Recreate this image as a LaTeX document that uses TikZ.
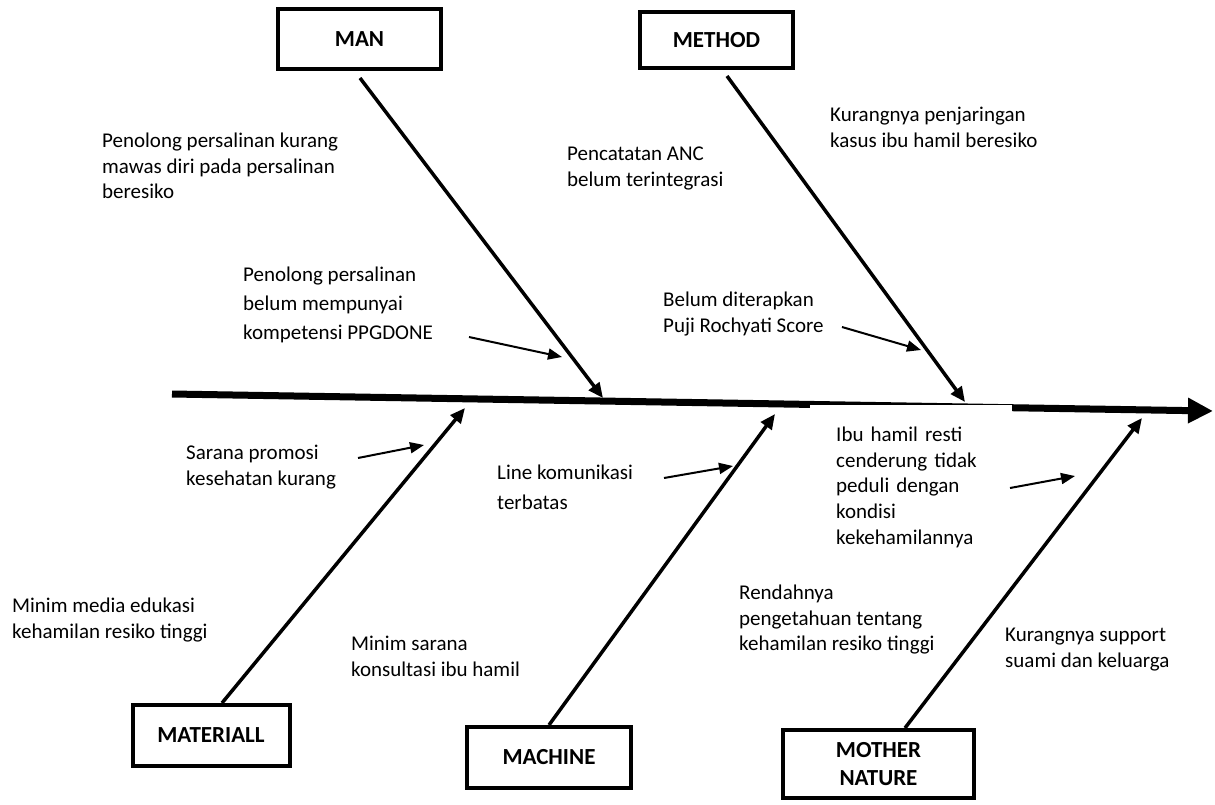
\documentclass[tikz,border=0pt]{standalone}
\usepackage{fontspec}
\setmainfont{Carlito}
\usetikzlibrary{arrows.meta}
\begin{document}
\begin{tikzpicture}[x=1pt,y=-1pt,
  txt/.style={anchor=north west, align=left, inner sep=0pt, font=\fontsize{21}{25.6}\selectfont},
  cat/.style={draw, line width=4pt, align=center, inner sep=0pt, font=\bfseries\fontsize{23}{28}\selectfont},
  spine/.style={line width=7pt, -{Triangle[length=25pt,width=24pt]}},
  bone/.style={line width=3.5pt, -{Triangle[length=15pt,width=13pt]}},
  sub/.style={line width=2pt, -{Triangle[length=14pt,width=11pt]}}]
\useasboundingbox (0,0) rectangle (1215,804);

% category boxes
\node[cat, minimum width=163pt, minimum height=60pt] (man) at (359.5,39) {MAN};
\node[cat, minimum width=153pt, minimum height=56pt] (method) at (716.5,40) {METHOD};
\node[cat, minimum width=157pt, minimum height=61pt] (mat) at (211,735.5) {MATERIALL};
\node[cat, minimum width=164pt, minimum height=61pt] (mach) at (549,757.5) {MACHINE};
\node[cat, minimum width=191pt, minimum height=68pt] (mother) at (878.5,764) {MOTHER\\NATURE};

% spine
\coordinate (tail) at (172,394);
\coordinate (head) at (1213,411);
\draw[spine] (tail) -- (head);

% white text box over the spine
\node[txt, fill=white, inner xsep=26pt, inner ysep=22pt, text width=150pt] (t8) at (810,405)
  {Ibu hamil resti\\cenderung tidak\\peduli dengan\\kondisi\\kekehamilannya};

% bones
\coordinate (manS) at (360,78);  \coordinate (manT) at (603,398);
\coordinate (metS) at (727,76);  \coordinate (metT) at (965,402);
\coordinate (matS) at (222,703); \coordinate (matT) at (465,408);
\coordinate (macS) at (549,725); \coordinate (macT) at (775,414);
\coordinate (motS) at (905,728); \coordinate (motT) at (1142,418);
\draw[bone] (manS) -- (manT);
\draw[bone] (metS) -- (metT);
\draw[bone] (matS) -- (matT);
\draw[bone] (macS) -- (macT);
\draw[bone] (motS) -- (motT);

% texts
\node[txt] (t1) at (102,133) {Penolong persalinan kurang\\mawas diri pada persalinan\\beresiko};
\node[txt, font=\fontsize{21}{29}\selectfont] (t2) at (243,267) {Penolong persalinan\\belum mempunyai\\kompetensi PPGDONE};
\node[txt] (t3) at (567,147) {Pencatatan ANC\\belum terintegrasi};
\node[txt] (t4) at (830,107) {Kurangnya penjaringan\\kasus ibu hamil beresiko};
\node[txt] (t5) at (663,292) {Belum diterapkan\\Puji Rochyati Score};
\node[txt] (t6) at (186,445) {Sarana promosi\\kesehatan kurang};
\node[txt, font=\fontsize{21}{30}\selectfont] (t7) at (497,465) {Line komunikasi\\terbatas};
\node[txt] (t9) at (12,598) {Minim media edukasi\\kehamilan resiko tinggi};
\node[txt] (t10) at (351,636) {Minim sarana\\konsultasi ibu hamil};
\node[txt] (t11) at (739,585) {Rendahnya\\pengetahuan tentang\\kehamilan resiko tinggi};
\node[txt] (t12) at (1005,628) {Kurangnya support\\suami dan keluarga};

% small arrows
\coordinate (a1s) at (469,337);  \coordinate (a1t) at (562,357);
\coordinate (a2s) at (842,327);  \coordinate (a2t) at (921,350);
\coordinate (a3s) at (358,458);  \coordinate (a3t) at (424,445);
\coordinate (a4s) at (664,478);  \coordinate (a4t) at (733,466);
\coordinate (a5s) at (1010,488); \coordinate (a5t) at (1075,476);
\draw[sub] (a1s) -- (a1t);
\draw[sub] (a2s) -- (a2t);
\draw[sub] (a3s) -- (a3t);
\draw[sub] (a4s) -- (a4t);
\draw[sub] (a5s) -- (a5t);
\end{tikzpicture}
\end{document}
